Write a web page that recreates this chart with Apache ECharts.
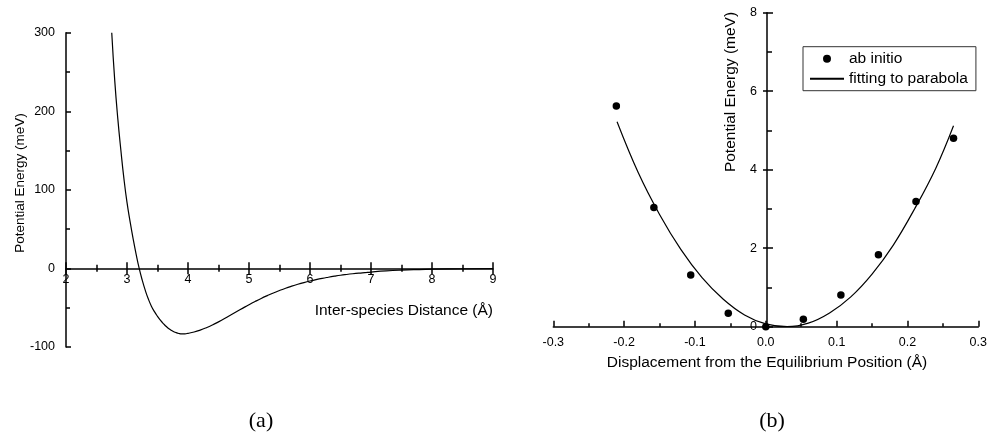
<!DOCTYPE html>
<html><head><meta charset="utf-8">
<script src="https://cdn.jsdelivr.net/npm/echarts@6/dist/echarts.min.js"></script>
<style>html,body{margin:0;padding:0;background:#fff}#c{width:990px;height:444px}</style>
</head><body><div id="c"></div>
<script>
// ---- Panel (a): potential energy vs inter-species distance ----
const distX   = [2.75,2.8,2.85,2.9,2.95,3.0,3.05,3.1,3.15,3.2,3.25,3.3,3.35,3.4,3.45,3.5,3.55,3.6,3.65,3.7,3.75,3.8,3.85,3.9,3.95,4.0,
                 4.1,4.2,4.3,4.4,4.5,4.6,4.7,4.8,4.9,5.0,5.1,5.2,5.3,5.4,5.5,5.6,5.7,5.8,5.9,6.0,6.1,6.2,6.3,6.4,6.5,6.6,6.7,6.8,6.9,7.0,7.25,7.5,7.75,8.0,8.5,9.0];
const energyA = [300,238,190,150,114,84,60,38,18,0,-15,-28,-39,-48,-55,-61,-66.2,-70.5,-74.3,-77.4,-79.8,-81.6,-82.8,-83.3,-83.2,-82.6,
                 -80.9,-78.5,-75.5,-72,-68,-63.8,-59.4,-54.9,-50.5,-46.2,-42.1,-38.2,-34.6,-31.2,-28.1,-25.2,-22.6,-20.2,-18.0,-16.0,-14.2,-12.6,-11.2,-9.9,-8.7,-7.7,-6.8,-6.0,-5.3,-4.6,-3.2,-2.2,-1.5,-1.0,-0.4,-0.1];
// ---- Panel (b): ab initio points and parabola fit ----
const dispX    = [-0.211,-0.158,-0.106,-0.053,0,0.053,0.106,0.159,0.212,0.265];
const abInitio = [5.62,3.04,1.32,0.34,0,0.19,0.81,1.83,3.19,4.80];
const fitX     = [-0.21,-0.18,-0.15,-0.12,-0.09,-0.06,-0.03,0,0.03,0.06,0.09,0.12,0.15,0.18,0.21,0.24,0.265];
const fitY     = [5.22,3.92,2.86,1.97,1.25,0.70,0.30,0.07,0,0.09,0.35,0.76,1.34,2.08,3.00,4.04,5.12];
const legendNames = ['ab initio','fitting to parabola'];

const FONT = "'Liberation Sans', Arial, sans-serif";
const BLACK = '#000';
// panel (a): full plot rect, and rect ending at the y=0 line (x axis sits on zero)
const gA  = {left:66, top:32.7, width:427, height:314.3};
const gA0 = {left:66, top:32.7, width:427, height:235.6};
// panel (b): full plot rect, and rect starting at x=0 (y axis sits on zero)
const gB  = {left:553.3, top:12.7, width:427.4, height:314};
const gB0 = {left:767, top:12.7, width:213.7, height:314};
const lbl = (m, extra) => Object.assign({color:BLACK, fontFamily:FONT, fontSize:12.5, margin:m}, extra||{});
const lineS = {color:BLACK, width:1.5};
const tickS = {color:BLACK, width:1.5};
const hidden = 'rgba(0,0,0,0)';
const off = (g, min, max) => ({gridIndex:g, type:'value', min:min, max:max, show:false});

const option = {
  backgroundColor:'#fff',
  animation:false,
  grid:[gA, gA0, gA0, gB, gB0, gB0],
  legend:{
    data:[{name:legendNames[0]}, {name:legendNames[1], itemStyle:{color:hidden, borderColor:hidden, borderWidth:0}}],
    orient:'vertical', left:803, top:46.7,
    borderColor:'#333', borderWidth:1, padding:[4,8,4,6],
    itemWidth:34, itemHeight:8, itemGap:4,
    textStyle:{color:BLACK, fontFamily:FONT, fontSize:15.5}
  },
  xAxis:[
    off(0, 2, 9),
    {gridIndex:1, type:'value', min:2, max:9, interval:1, position:'bottom',
     axisLine:{onZero:false, lineStyle:lineS},
     axisTick:{inside:false, length:6, lineStyle:tickS},
     minorTick:{show:true, splitNumber:2, length:3.5, lineStyle:tickS},
     axisLabel:lbl(5), splitLine:{show:false}},
    {gridIndex:2, type:'value', min:2, max:9, interval:1, position:'bottom',
     axisLine:{onZero:false, lineStyle:{color:hidden}},
     axisTick:{inside:true, length:6, lineStyle:tickS},
     minorTick:{show:true, splitNumber:2, length:3.5, lineStyle:tickS},
     axisLabel:{show:false}, splitLine:{show:false}},
    {gridIndex:3, type:'value', min:-0.3, max:0.3, interval:0.1, position:'bottom',
     axisLine:{onZero:false, lineStyle:lineS},
     axisTick:{inside:true, length:6, lineStyle:tickS},
     minorTick:{show:true, splitNumber:2, length:3.5, lineStyle:tickS},
     axisLabel:lbl(9, {formatter:v => (Math.abs(v)<1e-9?0:v).toFixed(1)}), splitLine:{show:false}},
    off(4, 0, 0.3),
    off(5, 0, 0.3)
  ],
  yAxis:[
    {gridIndex:0, type:'value', min:-100, max:300, interval:100, position:'left',
     axisLine:{onZero:false, lineStyle:lineS},
     axisTick:{inside:true, length:5, lineStyle:tickS},
     minorTick:{show:true, splitNumber:2, length:4, lineStyle:tickS},
     axisLabel:lbl(11), splitLine:{show:false}},
    off(1, 0, 300),
    off(2, 0, 300),
    off(3, 0, 8),
    {gridIndex:4, type:'value', min:0, max:8, interval:2, position:'left',
     axisLine:{onZero:false, lineStyle:lineS},
     axisTick:{inside:true, length:6, lineStyle:tickS},
     minorTick:{show:true, splitNumber:2, length:5, lineStyle:tickS},
     axisLabel:lbl(10), splitLine:{show:false}},
    {gridIndex:5, type:'value', min:0, max:8, interval:2, position:'left',
     axisLine:{onZero:false, lineStyle:{color:hidden}},
     axisTick:{inside:false, length:4, lineStyle:tickS},
     axisLabel:{show:false}, splitLine:{show:false}}
  ],
  series:[
    {name:'potential', type:'line', xAxisIndex:0, yAxisIndex:0,
     data:distX.map((x,i)=>[x, energyA[i]]), smooth:0.5, symbol:'none',
     lineStyle:{color:BLACK, width:1.2}, clip:false, z:3},
    {name:legendNames[1], type:'line', xAxisIndex:3, yAxisIndex:3,
     data:fitX.map((x,i)=>[x, fitY[i]]), smooth:0.4, symbol:'none',
     lineStyle:{color:BLACK, width:1.2}, itemStyle:{color:BLACK}, z:3},
    {name:legendNames[0], type:'scatter', xAxisIndex:3, yAxisIndex:3,
     data:dispX.map((x,i)=>[x, abInitio[i]]), symbol:'circle', symbolSize:7.5,
     itemStyle:{color:BLACK, opacity:1}, clip:false, z:4}
  ],
  graphic:[
    {type:'text', x:493, y:311, style:{text:'Inter-species Distance (Å)', font:"15.5px "+FONT, fill:BLACK, textAlign:'right', textVerticalAlign:'middle'}},
    {type:'text', x:20, y:183, rotation:Math.PI/2, style:{text:'Potential Energy (meV)', font:"13.5px "+FONT, fill:BLACK, textAlign:'center', textVerticalAlign:'middle'}},
    {type:'text', x:767, y:363, style:{text:'Displacement from the Equilibrium Position (Å)', font:"15.5px "+FONT, fill:BLACK, textAlign:'center', textVerticalAlign:'middle'}},
    {type:'text', x:731, y:92, rotation:Math.PI/2, style:{text:'Potential Energy (meV)', font:"15.5px "+FONT, fill:BLACK, textAlign:'center', textVerticalAlign:'middle'}},
    {type:'text', x:261, y:421, style:{text:'(a)', font:"22px 'Liberation Serif', 'Times New Roman', serif", fill:BLACK, textAlign:'center', textVerticalAlign:'middle'}},
    {type:'text', x:772, y:421, style:{text:'(b)', font:"22px 'Liberation Serif', 'Times New Roman', serif", fill:BLACK, textAlign:'center', textVerticalAlign:'middle'}}
  ]
};
const chart = echarts.init(document.getElementById('c'), null, {renderer:'canvas'});
chart.setOption(option);
</script>
</body></html>
